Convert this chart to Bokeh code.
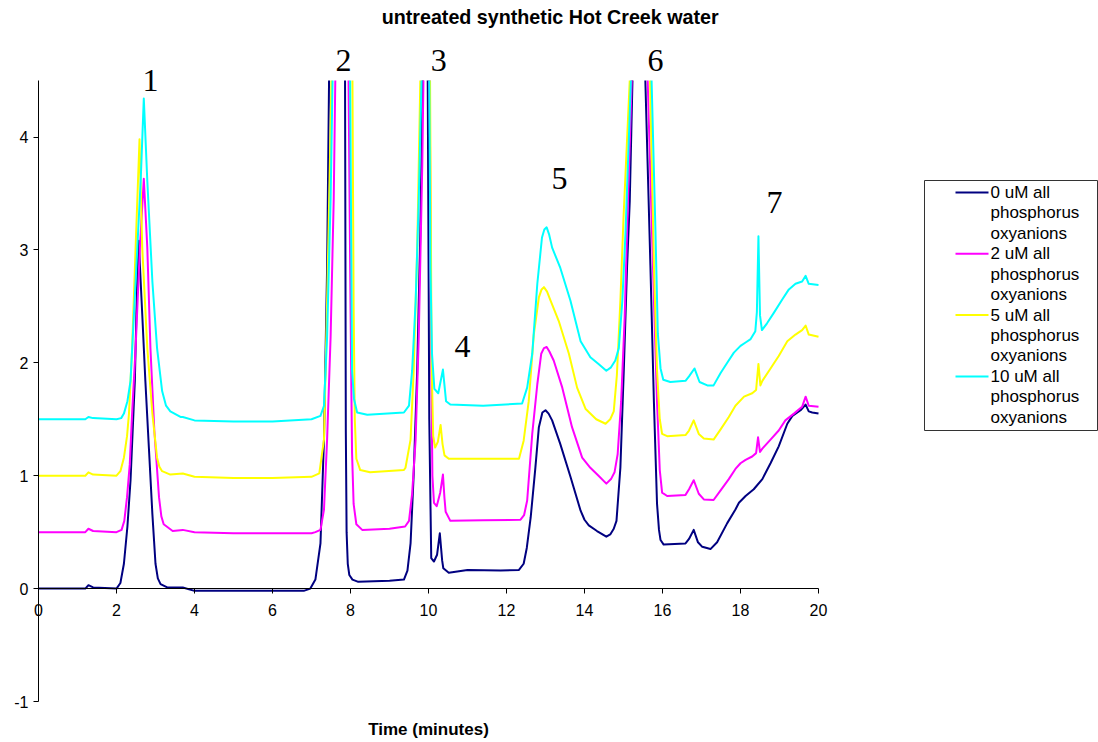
from bokeh.plotting import figure
from bokeh.models import Range1d, LinearAxis, FixedTicker, Label, PrintfTickFormatter
from bokeh.layouts import row
from bokeh.embed import file_html
from bokeh.resources import INLINE
from bokeh.core.properties import value

NAN = float("nan")  # off-scale peak tops (above the plotted range)

# ---- chromatogram traces: (time in minutes, detector response) ----
trace_0uM = [
    (0, 0.0), (1.2, 0.0), (1.28, 0.03), (1.4, 0.01), (2.0, 0.0), (2.1, 0.05), (2.19, 0.22),
    (2.28, 0.55), (2.36, 0.96), (2.47, 1.84), (2.53, 2.72), (2.57, 3.08), (2.66, 2.43),
    (2.74, 1.84), (2.83, 1.25), (2.92, 0.66), (3.0, 0.22), (3.06, 0.09), (3.13, 0.04),
    (3.3, 0.01), (3.7, 0.01), (4.0, -0.02), (5.0, -0.02), (6.0, -0.02), (6.8, -0.02),
    (6.97, 0.0), (7.1, 0.08), (7.23, 0.40), (7.32, 1.32), (7.40, 2.84), (7.45, 4.5),
    (7.66, NAN), (7.86, 4.5), (7.88, 1.4), (7.90, 0.5), (7.93, 0.22), (7.97, 0.12),
    (8.05, 0.08), (8.2, 0.06), (9.0, 0.07), (9.37, 0.08), (9.46, 0.16), (9.54, 0.40),
    (9.62, 1.01), (9.71, 1.93), (9.79, 3.15), (9.85, 4.5), (9.92, NAN), (9.98, 4.5),
    (10.02, 1.5), (10.07, 0.27), (10.14, 0.24), (10.22, 0.30), (10.29, 0.49), (10.35, 0.25),
    (10.38, 0.18), (10.52, 0.14), (11.0, 0.165), (11.85, 0.16), (12.32, 0.165), (12.44, 0.22),
    (12.52, 0.36), (12.62, 0.63), (12.74, 1.07), (12.83, 1.43), (12.92, 1.56), (13.0, 1.58),
    (13.08, 1.55), (13.17, 1.49), (13.38, 1.28), (13.64, 0.99), (13.90, 0.69), (14.0, 0.61),
    (14.11, 0.56), (14.32, 0.51), (14.56, 0.46), (14.66, 0.48), (14.75, 0.53), (14.82, 0.60),
    (14.92, 1.07), (15.01, 1.96), (15.09, 2.84), (15.16, 3.43), (15.23, 4.5), (15.40, NAN),
    (15.56, 4.5), (15.69, 2.86), (15.78, 1.65), (15.86, 0.75), (15.91, 0.52), (15.95, 0.43),
    (16.03, 0.39), (16.59, 0.40), (16.68, 0.44), (16.80, 0.52), (16.91, 0.41), (17.02, 0.37),
    (17.23, 0.35), (17.40, 0.41), (17.66, 0.58), (17.87, 0.70), (17.96, 0.76), (18.13, 0.82),
    (18.34, 0.88), (18.56, 0.97), (18.77, 1.11), (18.98, 1.26), (19.20, 1.46), (19.33, 1.53),
    (19.54, 1.58), (19.67, 1.63), (19.75, 1.57), (19.84, 1.56), (20.0, 1.55),
]

trace_2uM = [
    (0, 0.5), (1.2, 0.5), (1.28, 0.53), (1.4, 0.51), (2.0, 0.5), (2.13, 0.52), (2.2, 0.6),
    (2.27, 0.81), (2.34, 1.1), (2.40, 1.55), (2.49, 2.13), (2.60, 3.02), (2.70, 3.63),
    (2.79, 3.02), (2.87, 2.13), (2.97, 1.40), (3.09, 0.81), (3.15, 0.64), (3.21, 0.57),
    (3.44, 0.51), (3.7, 0.52), (4.0, 0.5), (5.0, 0.49), (6.0, 0.49), (7.0, 0.49),
    (7.1, 0.50), (7.23, 0.52), (7.32, 0.70), (7.40, 1.32), (7.49, 2.23), (7.57, 3.45),
    (7.61, 4.5), (7.78, NAN), (7.95, 4.5), (8.0, 2.5), (8.04, 1.2), (8.08, 0.75),
    (8.15, 0.57), (8.3, 0.52), (9.0, 0.53), (9.4, 0.55), (9.5, 0.6), (9.58, 0.84),
    (9.67, 1.32), (9.75, 2.23), (9.84, 3.75), (9.87, 4.5), (9.95, NAN), (10.03, 4.5),
    (10.07, 2.0), (10.10, 1.0), (10.14, 0.76), (10.21, 0.73), (10.30, 0.85), (10.37, 1.01),
    (10.41, 0.80), (10.44, 0.68), (10.56, 0.60), (11.4, 0.605), (12.36, 0.61), (12.45, 0.65),
    (12.53, 0.78), (12.66, 1.37), (12.79, 1.81), (12.89, 2.08), (12.96, 2.13), (13.03, 2.14),
    (13.10, 2.10), (13.21, 2.02), (13.43, 1.78), (13.68, 1.43), (13.94, 1.16), (14.15, 1.07),
    (14.36, 1.0), (14.56, 0.93), (14.68, 0.97), (14.77, 1.03), (14.85, 1.19), (14.94, 1.66),
    (15.03, 2.40), (15.09, 3.14), (15.21, 4.5), (15.42, NAN), (15.62, 4.5), (15.78, 2.56),
    (15.86, 1.65), (15.93, 1.05), (15.99, 0.85), (16.12, 0.82), (16.59, 0.83), (16.68, 0.88),
    (16.80, 0.96), (16.93, 0.84), (17.06, 0.79), (17.31, 0.785), (17.49, 0.87), (17.70, 0.97),
    (17.87, 1.06), (18.0, 1.11), (18.13, 1.14), (18.30, 1.17), (18.40, 1.20), (18.45, 1.34),
    (18.50, 1.21), (18.56, 1.24), (18.77, 1.32), (18.98, 1.40), (19.15, 1.49), (19.37, 1.55),
    (19.58, 1.61), (19.67, 1.70), (19.75, 1.62), (20.0, 1.61),
]

trace_5uM = [
    (0, 1.0), (1.2, 1.0), (1.28, 1.03), (1.4, 1.01), (2.0, 1.0), (2.1, 1.04), (2.19, 1.16),
    (2.27, 1.35), (2.32, 1.55), (2.40, 2.13), (2.49, 3.02), (2.59, 3.98), (2.66, 3.02),
    (2.79, 2.13), (2.92, 1.55), (3.04, 1.16), (3.1, 1.08), (3.17, 1.04), (3.38, 1.01),
    (3.7, 1.02), (4.0, 0.99), (5.0, 0.98), (6.0, 0.98), (7.0, 0.99), (7.2, 1.02),
    (7.32, 1.32), (7.40, 2.54), (7.47, 3.75), (7.51, 4.5), (7.78, NAN), (8.05, 4.5),
    (8.08, 2.5), (8.11, 1.5), (8.15, 1.15), (8.25, 1.05), (8.5, 1.03), (9.37, 1.05),
    (9.41, 1.07), (9.54, 1.32), (9.62, 1.93), (9.71, 3.0), (9.75, 3.75), (9.79, 4.5),
    (9.92, NAN), (10.04, 4.5), (10.08, 2.0), (10.12, 1.35), (10.17, 1.25), (10.24, 1.30),
    (10.31, 1.45), (10.36, 1.28), (10.41, 1.18), (10.52, 1.15), (11.0, 1.15), (12.32, 1.15),
    (12.44, 1.31), (12.57, 1.66), (12.70, 2.25), (12.83, 2.58), (12.90, 2.65), (12.96, 2.67),
    (13.04, 2.63), (13.13, 2.55), (13.34, 2.37), (13.60, 2.08), (13.81, 1.78), (14.03, 1.59),
    (14.30, 1.50), (14.54, 1.46), (14.66, 1.50), (14.75, 1.57), (14.83, 1.89), (14.92, 2.55),
    (15.0, 3.28), (15.16, 4.5), (15.42, NAN), (15.68, 4.5), (15.78, 2.86), (15.86, 1.93),
    (15.93, 1.50), (15.99, 1.37), (16.12, 1.35), (16.59, 1.36), (16.68, 1.40), (16.80, 1.49),
    (16.93, 1.37), (17.06, 1.33), (17.31, 1.32), (17.49, 1.41), (17.70, 1.52), (17.87, 1.62),
    (18.09, 1.70), (18.30, 1.73), (18.40, 1.76), (18.46, 1.99), (18.51, 1.80), (18.56, 1.84),
    (18.77, 1.95), (18.98, 2.06), (19.20, 2.19), (19.41, 2.25), (19.58, 2.29), (19.67, 2.33),
    (19.75, 2.25), (20.0, 2.23),
]

trace_10uM = [
    (0, 1.5), (1.2, 1.5), (1.28, 1.52), (1.4, 1.51), (2.0, 1.5), (2.12, 1.51), (2.19, 1.55),
    (2.28, 1.66), (2.36, 1.84), (2.49, 2.72), (2.62, 3.61), (2.70, 4.34), (2.79, 3.61),
    (2.92, 2.72), (3.04, 2.13), (3.17, 1.75), (3.27, 1.62), (3.38, 1.57), (3.64, 1.52),
    (3.7, 1.52), (4.0, 1.49), (5.0, 1.48), (6.0, 1.48), (7.0, 1.50), (7.23, 1.53),
    (7.32, 1.62), (7.40, 2.23), (7.49, 3.45), (7.54, 4.5), (7.77, NAN), (7.99, 4.5),
    (8.04, 1.93), (8.09, 1.68), (8.17, 1.56), (8.43, 1.54), (9.37, 1.56), (9.50, 1.62),
    (9.58, 1.93), (9.67, 2.54), (9.75, 3.45), (9.82, 4.5), (9.93, NAN), (10.02, 4.5),
    (10.05, 2.84), (10.09, 2.08), (10.15, 1.77), (10.25, 1.73), (10.37, 1.94), (10.45, 1.66),
    (10.56, 1.63), (11.4, 1.62), (12.40, 1.64), (12.53, 1.78), (12.66, 2.08), (12.79, 2.70),
    (12.91, 3.11), (12.97, 3.18), (13.03, 3.20), (13.09, 3.14), (13.17, 3.02), (13.38, 2.84),
    (13.64, 2.55), (13.90, 2.19), (14.15, 2.05), (14.36, 1.99), (14.56, 1.93), (14.68, 1.96),
    (14.79, 2.02), (14.88, 2.13), (14.97, 2.55), (15.05, 3.14), (15.19, 4.5), (15.45, NAN),
    (15.72, 4.5), (15.82, 3.16), (15.88, 2.26), (15.95, 1.95), (16.02, 1.85), (16.2, 1.83),
    (16.59, 1.84), (16.68, 1.88), (16.82, 1.95), (16.95, 1.83), (17.15, 1.80), (17.31, 1.80),
    (17.49, 1.91), (17.66, 2.0), (17.83, 2.09), (18.0, 2.15), (18.13, 2.18), (18.26, 2.21),
    (18.38, 2.28), (18.42, 2.45), (18.46, 3.12), (18.50, 2.42), (18.55, 2.29), (18.68, 2.35),
    (18.85, 2.44), (19.07, 2.56), (19.24, 2.65), (19.41, 2.70), (19.58, 2.72), (19.67, 2.77),
    (19.75, 2.70), (20.0, 2.69),
]

series_traces = [trace_0uM, trace_2uM, trace_5uM, trace_10uM]
series_colors = ["#000080", "#FF00FF", "#FFFF00", "#00FFFF"]
series_labels = [
    ["0 uM all", "phosphorus", "oxyanions"],
    ["2 uM all", "phosphorus", "oxyanions"],
    ["5 uM all", "phosphorus", "oxyanions"],
    ["10 uM all", "phosphorus", "oxyanions"],
]

# peak numbers: (label, retention time, height of the label)
peak_names = ["1", "2", "3", "4", "5", "6", "7"]
peak_times = [2.87, 7.82, 10.26, 10.87, 13.36, 15.82, 18.87]
peak_heights = [4.50, 4.68, 4.68, 2.14, 3.63, 4.68, 3.42]

x_ticks = [0, 2, 4, 6, 8, 10, 12, 14, 16, 18, 20]
y_ticks = [-1, 0, 1, 2, 3, 4]
x_span = (0, 20)
y_span = (-1, 4.5)

title_text = "untreated synthetic Hot Creek water"
x_title = "Time (minutes)"

SANS = "Liberation Sans"

# The frame fills the whole canvas; both axes sit at fixed data positions
# and are bounded to the plotted span, so texts around them are not clipped.
PX_X = 39.0     # pixels per minute
PX_Y = 112.9    # pixels per response unit
X0_PX = 38.0    # canvas x of t = 0
YM1_PX = 701.0  # canvas y of response = -1
W, H = 900, 742

x_lo = x_span[0] - X0_PX / PX_X
x_hi = x_lo + W / PX_X
y_lo = y_span[0] - (H - YM1_PX) / PX_Y
y_hi = y_lo + H / PX_Y

p = figure(width=W, height=H,
           x_range=Range1d(x_lo, x_hi), y_range=Range1d(y_lo, y_hi),
           x_axis_location=None, y_axis_location=None,
           output_backend="svg", toolbar_location=None, min_border=0)
p.outline_line_color = None
p.grid.visible = False
p.background_fill_color = "white"
p.border_fill_color = "white"

xaxis = LinearAxis(fixed_location=0, bounds=x_span, ticker=FixedTicker(ticks=x_ticks))
yaxis = LinearAxis(fixed_location=0, bounds=y_span, ticker=FixedTicker(ticks=y_ticks),
                   formatter=PrintfTickFormatter(format="%d"))
p.add_layout(xaxis, "below")
p.add_layout(yaxis, "left")

for ax in (xaxis, yaxis):
    ax.axis_line_color = "black"
    ax.axis_line_width = 1
    ax.major_tick_line_color = "black"
    ax.major_tick_in = 0
    ax.major_tick_out = 5
    ax.minor_tick_line_color = None
    ax.major_label_text_font = SANS
    ax.major_label_text_font_size = "16px"
    ax.major_label_text_color = "black"
xaxis.major_label_standoff = 10
yaxis.major_label_standoff = 5

for trace, color in zip(series_traces, series_colors):
    ts = [pt[0] for pt in trace]
    vs = [pt[1] for pt in trace]
    p.line(ts, vs, line_color=color, line_width=2, line_join="round")

for name, t, h in zip(peak_names, peak_times, peak_heights):
    p.add_layout(Label(x=t, y=h, text=name, text_font="Liberation Serif",
                       text_font_size="32px", text_align="center",
                       text_baseline="alphabetic", text_color="black"))

p.add_layout(Label(x=13.12, y=5.065, text=title_text, text_font=SANS,
                   text_font_size="19.7px", text_font_style="bold",
                   text_align="center", text_baseline="alphabetic", text_color="black"))
p.add_layout(Label(x=10.0, y=-1.25, text=x_title, text_font=SANS,
                   text_font_size="17px", text_font_style="bold",
                   text_align="center", text_baseline="alphabetic", text_color="black"))

# legend panel drawn in pixel space
leg = figure(width=198, height=H,
             x_range=Range1d(0, 198), y_range=Range1d(H, 0),
             x_axis_location=None, y_axis_location=None,
             output_backend="svg", toolbar_location=None, min_border=0)
leg.outline_line_color = None
leg.grid.visible = False
leg.quad(left=[24], right=[197], top=[180], bottom=[430],
         fill_color=None, line_color="#333333", line_width=1)

first_line_y = [192 + 61.3 * i for i in range(len(series_labels))]
leg.segment(x0=[55] * 4, x1=[88] * 4, y0=first_line_y, y1=first_line_y,
            line_color=series_colors, line_width=2)
text_x, text_y, text_s = [], [], []
for y0, lines in zip(first_line_y, series_labels):
    for k, s in enumerate(lines):
        text_x.append(90)
        text_y.append(y0 + 20.4 * k)
        text_s.append(s)
leg.text(x=text_x, y=text_y, text=text_s, text_font=value(SANS),
         text_font_size="17px", text_baseline="middle", text_align="left",
         text_color="black")

layout = row(p, leg)
open("out.html", "w").write(file_html(layout, INLINE))
